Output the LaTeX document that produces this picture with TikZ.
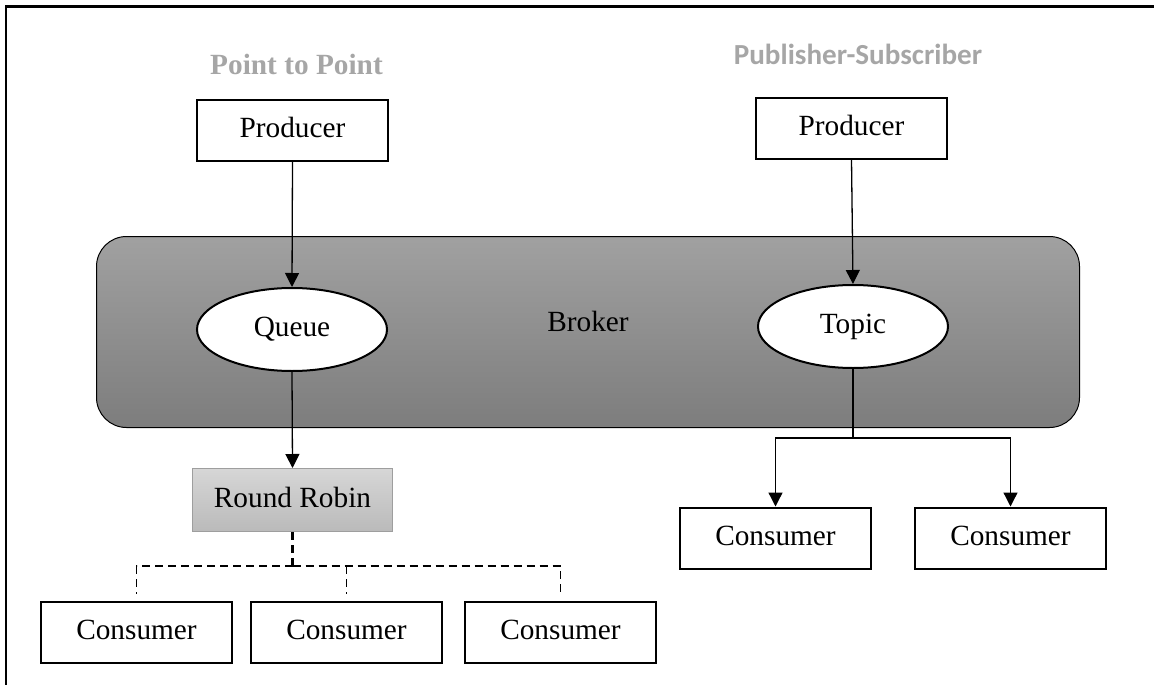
\documentclass[tikz,border=0pt]{standalone}
\usepackage{fontspec}
\setmainfont{Liberation Serif}
\newfontfamily\headsans{Carlito}
\usetikzlibrary{arrows.meta,shapes.geometric}
\begin{document}
\begin{tikzpicture}[x=1pt,y=-1pt,
  txt/.style={font=\fontsize{29.3}{34}\selectfont, text height=20.5pt, text depth=5.9pt, inner sep=0pt},
  boxnode/.style={txt, draw, line width=2pt, fill=white, minimum width=191pt, minimum height=61pt},
  ellnode/.style={txt, ellipse, draw, line width=2pt, fill=white, minimum width=190pt, minimum height=83pt},
  rrnode/.style={txt, draw=black!38, line width=1pt, top color=black!16, bottom color=black!27, minimum width=200pt, minimum height=63pt},
  brokerbox/.style={draw, line width=1pt, rounded corners=30pt, top color=black!37, bottom color=black!51, minimum width=983pt, minimum height=191pt, inner sep=0pt},
  heading/.style={text=black!35, anchor=base, inner sep=0pt},
  flow/.style={-{Triangle[length=14pt,width=14pt]}, line width=1.3pt},
  rrlink/.style={dash pattern=on 8pt off 5pt, line width=1.8pt},
  frameline/.style={line width=2.7pt}
]
\useasboundingbox (0,0) rectangle (1154,685);

% open frame: top and left rules
\coordinate (fTL) at (6,6.5);
\coordinate (fTR) at (1154,6.5);
\coordinate (fBL) at (6,685);
\draw[frameline] (fTR) -- (fTL) -- (fBL);

% section headings
\node[heading, font=\fontsize{29.3}{34}\selectfont\bfseries] (hp2p) at (296.5,74.6) {Point to Point};
\node[heading, font=\headsans\fontsize{29.1}{34}\selectfont\bfseries] (hpubsub) at (858,64.7) {Publisher-Subscriber};

% broker
\node[brokerbox] (broker) at (588,332) {};
\node[txt] (brokerlabel) at (588,323.7) {Broker};

% producers
\node[boxnode] (prodL) at (292.5,130.5) {Producer};
\node[boxnode] (prodR) at (851.5,128) {Producer};

% queue and topic
\node[ellnode] (queue) at (292,329.5) {Queue};
\node[ellnode] (topic) at (853,326.5) {Topic};

% round robin dispatcher
\node[rrnode] (rr) at (292.5,500) {Round Robin};

% point-to-point consumers
\node[boxnode] (cA) at (136.5,632) {Consumer};
\node[boxnode] (cB) at (346.5,632) {Consumer};
\node[boxnode] (cC) at (560.5,632) {Consumer};

% subscriber consumers
\node[boxnode] (cD) at (775.5,538) {Consumer};
\node[boxnode] (cE) at (1010.5,538) {Consumer};

% producer to broker
\draw[flow] (prodL.south) -- (queue.north);
\draw[flow] (prodR.south) -- (topic.north);

% queue to round robin
\draw[flow] (queue.south) -- (rr.north);

% topic fan-out
\coordinate (tj) at (853,438);
\draw[line width=1.3pt] (topic.south) -- (tj);
\draw[flow] (tj) -| (cD.north);
\draw[flow] (tj) -| (cE.north);

% round robin distribution
\coordinate (rj) at (292.5,566);
\coordinate (dA) at (136.5,594);
\coordinate (dB) at (346.5,594);
\coordinate (dC) at (560.5,594);
\draw[dash pattern=on 8pt off 5pt, line width=3pt] (rr.south) -- (rj);
\draw[rrlink] (rj) -| (dA);
\draw[rrlink] (rj) -| (dC);
\draw[rrlink] (dB |- rj) -- (dB);
\end{tikzpicture}
\end{document}
